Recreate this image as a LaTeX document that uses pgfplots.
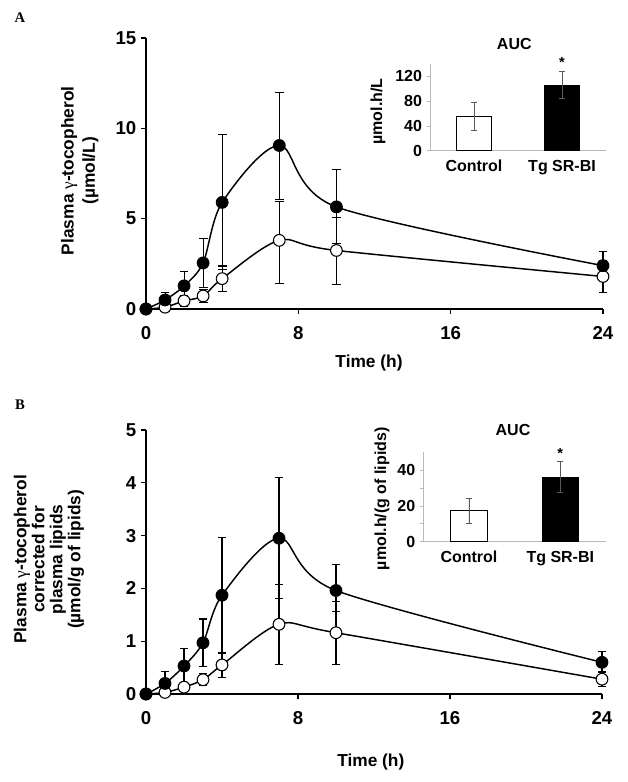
\documentclass[border=0pt]{standalone}
\usepackage{fontspec}
\setmainfont{Liberation Sans}
\newfontfamily\serifb{Liberation Serif}
\usepackage{pgfplots}
\pgfplotsset{compat=1.18}

% positions: reference px * 0.75pt
\pgfplotsset{
  kin/.style={scale only axis, clip=false, anchor=south west,
    axis x line=bottom, axis y line=left,
    axis line style={-, line width=1pt},
    tick align=outside, major tick length=3.75pt,
    tick style={line width=1pt, black},
    xmin=0, xmax=24, xtick={0,8,16,24}, ymin=0,
    tick label style={font=\fontsize{14}{16}\selectfont\bfseries},
    xticklabel style={yshift=-6pt},
    /pgf/number format/assume math mode=true,
    label style={font=\fontsize{13}{16}\selectfont\bfseries, align=center},
    xlabel={Time (h)}},
  auc/.style={scale only axis, clip=false, anchor=south west,
    axis x line=bottom, axis y line=left,
    axis line style={-, gray!55, line width=0.6pt},
    xmin=-0.5, xmax=1.5, xtick={0,1}, xticklabels={Control,Tg SR-BI},
    xtick style={draw=none}, ytick style={gray!55, line width=0.6pt},
    tick align=outside, major tick length=2.5pt, ymin=0,
    tick label style={font=\fontsize{12}{14}\selectfont\bfseries},
    xticklabel style={yshift=-1pt},
    /pgf/number format/assume math mode=true,
    label style={font=\fontsize{12}{14}\selectfont\bfseries},
    title style={font=\fontsize{12}{14}\selectfont\bfseries, anchor=center}},
  tg/.style={black, line width=1.1pt, smooth, mark=*,
    mark options={fill=black, line width=0.8pt, scale=1}, mark size=4.4pt,
    error bars/.cd, y dir=both, y explicit,
    error bar style={line width=0.8pt, black},
    error mark options={rotate=90, mark size=3.3pt, line width=0.8pt}},
  ct/.style={black, line width=1.1pt, smooth, mark=*,
    mark options={fill=white, line width=0.8pt}, mark size=4.4pt,
    error bars/.cd, y dir=both, y explicit,
    error bar style={line width=0.8pt, black},
    error mark options={rotate=90, mark size=3.3pt, line width=0.8pt}},
  bar/.style={ybar, line width=0.6pt, draw=black,
    error bars/.cd, y dir=both, y explicit,
    error bar style={line width=0.6pt, gray!70!black},
    error mark options={rotate=90, mark size=2.2pt, line width=0.6pt, gray!70!black}},
}

\begin{document}
\begin{tikzpicture}
\useasboundingbox (0pt,0pt) rectangle (471pt,586.5pt);

\node[font=\serifb\bfseries\fontsize{11}{12}\selectfont] at (15pt,573pt) {A};
\node[font=\serifb\bfseries\fontsize{11}{12}\selectfont] at (15pt,282.75pt) {B};

% ---------- panel A ----------
\begin{axis}[kin, at={(109.5pt,354.75pt)}, width=342.75pt, height=203.25pt,
  ymax=15, ytick={0,5,10,15},
  ylabel={Plasma {\serifb\mdseries γ}-tocopherol\\(µmol/L)},
  ylabel style={at={(axis description cs:-0.145,0.51)}, anchor=center},
  xlabel style={at={(axis description cs:0.488,-0.199)}, anchor=center}]
\addplot[ct] coordinates {
  (0,0) +- (0,0)
  (1,0.1) +- (0,0.1)
  (2,0.45) +- (0,0.3)
  (3,0.72) +- (0,0.38)
  (4,1.68) +- (0,0.7)
  (7,3.8) += (0,2.15) -= (0,2.4)
  (10,3.24) += (0,1.8) -= (0,1.9)
  (24,1.8) +- (0,0.9)
};
\addplot[tg] coordinates {
  (0,0) +- (0,0)
  (1,0.5) +- (0,0.4)
  (2,1.28) +- (0,0.8)
  (3,2.55) +- (0,1.35)
  (4,5.9) += (0,3.75) -= (0,3.7)
  (7,9.05) += (0,2.95) -= (0,3.0)
  (10,5.65) +- (0,2.05)
  (24,2.4) +- (0,0.8)
};
\end{axis}

\begin{axis}[auc, at={(322.5pt,473.475pt)}, width=132pt, height=65pt,
  ymax=140, ytick={0,40,80,120},
  ylabel={µmol.h/L},
  ylabel style={at={(axis description cs:-0.295,0.452)}, anchor=center},
  title={AUC}, title style={at={(axis description cs:0.479,1.142)}}]
\addplot[bar width=26.25pt, fill=white, bar] coordinates {(0,55) +- (0,22.5)};
\addplot[bar width=26.25pt, fill=black, bar] coordinates {(1,106) +- (0,21.5)};
\node[font=\fontsize{11}{12}\selectfont\bfseries] at (axis cs:1,142) {*};
\end{axis}

% ---------- panel B ----------
\begin{axis}[kin, at={(109.5pt,66pt)}, width=342pt, height=198pt,
  ymax=5, ytick={0,1,2,3,4,5},
  ylabel={Plasma {\serifb\mdseries γ}-tocopherol\\corrected for\\plasma lipids\\(µmol/g of lipids)},
  ylabel style={at={(axis description cs:-0.2127,0.51)}, anchor=center,
    font=\fontsize{13}{13.5}\selectfont\bfseries},
  xlabel style={at={(axis description cs:0.493,-0.258)}, anchor=center}]
\addplot[ct] coordinates {
  (0,0) +- (0,0)
  (1,0.03) +- (0,0.03)
  (2,0.13) +- (0,0.05)
  (3,0.27) +- (0,0.11)
  (4,0.55) +- (0,0.23)
  (7,1.32) +- (0,0.76)
  (10,1.16) +- (0,0.6)
  (24,0.28) +- (0,0.14)
};
\addplot[tg] coordinates {
  (0,0) +- (0,0)
  (1,0.2) +- (0,0.22)
  (2,0.53) +- (0,0.33)
  (3,0.97) +- (0,0.45)
  (4,1.87) +- (0,1.1)
  (7,2.95) +- (0,1.15)
  (10,1.96) += (0,0.5) -= (0,0.4)
  (24,0.6) +- (0,0.2)
};
\end{axis}

\begin{axis}[auc, at={(317.475pt,180.225pt)}, width=137pt, height=67.1pt,
  ymax=50, ytick={0,10,20,30,40}, yticklabels={0,,20,,40},
  ylabel={µmol.h/(g of lipids)},
  ylabel style={at={(axis description cs:-0.226,0.48)}, anchor=center},
  title={AUC}, title style={at={(axis description cs:0.491,1.155)}}]
\addplot[bar width=27.5pt, fill=white, bar] coordinates {(0,17.3) +- (0,7)};
\addplot[bar width=27.5pt, fill=black, bar] coordinates {(1,36.1) +- (0,8.6)};
\node[font=\fontsize{11}{12}\selectfont\bfseries] at (axis cs:1,49.5) {*};
\end{axis}
\end{tikzpicture}
\end{document}
